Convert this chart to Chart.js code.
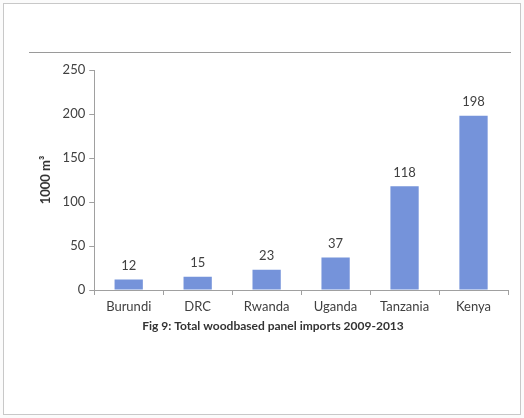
<!DOCTYPE html>
<html>
<head>
<meta charset="utf-8">
<script src="https://cdn.jsdelivr.net/npm/chart.js@4"></script>
<style>
  html, body { margin: 0; padding: 0; background: #fbfbfb; }
  #wrap { position: relative; width: 524px; height: 418px; }
  #frame { position: absolute; left: 3px; top: 3px; width: 516px; height: 410px; border: 1px solid #c8c8c8; background: #fff; }
  canvas { position: absolute; left: 0; top: 0; }
</style>
</head>
<body>
<div id="wrap">
  <div id="frame"></div>
  <canvas id="chart" width="524" height="418"></canvas>
</div>
<script>
// values
const countries = ['Burundi', 'DRC', 'Rwanda', 'Uganda', 'Tanzania', 'Kenya'];
const imports = [12, 15, 23, 37, 118, 198];
const yTicks = [0, 50, 100, 150, 200, 250];

const fontFamily = 'Lato, "Open Sans", sans-serif';
const textColor = '#404040';

// draws the thin rule above the plot and the numbers over the bars
const extras = {
    id: 'extras',
    afterDraw(chart) {
        const ctx = chart.ctx;
        ctx.save();
        ctx.strokeStyle = '#9a9a9a';
        ctx.lineWidth = 1;
        ctx.beginPath();
        ctx.moveTo(29, 52.5);
        ctx.lineTo(511, 52.5);
        ctx.stroke();

        ctx.fillStyle = textColor;
        ctx.font = '13px ' + fontFamily;
        ctx.textAlign = 'center';
        ctx.textBaseline = 'bottom';
        const meta = chart.getDatasetMeta(0);
        meta.data.forEach((bar, i) => {
            ctx.fillText(String(imports[i]), bar.x, bar.y - 7);
        });
        ctx.restore();
    }
};

const ctx = document.getElementById('chart').getContext('2d');
new Chart(ctx, {
    type: 'bar',
    data: {
        labels: countries,
        datasets: [{
            data: imports,
            backgroundColor: '#7593da',
            borderWidth: 0,
            categoryPercentage: 1,
            barPercentage: 0.41
        }]
    },
    options: {
        responsive: false,
        animation: false,
        layout: { padding: { top: 70, right: 16, bottom: 85, left: 38 } },
        scales: {
            y: {
                min: 0,
                max: 250,
                afterBuildTicks: (axis) => { axis.ticks = yTicks.map(v => ({ value: v })); },
                ticks: { color: textColor, font: { family: fontFamily, size: 13 }, padding: 4 },
                grid: { drawOnChartArea: false, color: '#a0a0a0', tickLength: 5 },
                border: { color: '#a0a0a0' },
                title: {
                    display: true,
                    text: '1000 m³',
                    color: '#333',
                    font: { family: fontFamily, size: 13, weight: 'bold' },
                    padding: { top: 0, bottom: 5 }
                }
            },
            x: {
                ticks: { color: textColor, font: { family: fontFamily, size: 13 }, padding: 4 },
                grid: { drawOnChartArea: false, color: '#a0a0a0', tickLength: 5 },
                border: { color: '#a0a0a0' }
            }
        },
        plugins: {
            legend: { display: false },
            tooltip: { enabled: false },
            title: {
                display: true,
                position: 'bottom',
                text: 'Fig 9: Total woodbased panel imports 2009-2013',
                color: '#333',
                font: { family: fontFamily, size: 12, weight: 'bold' },
                padding: { top: 0, bottom: 0 }
            }
        }
    },
    plugins: [extras]
});
</script>
</body>
</html>
